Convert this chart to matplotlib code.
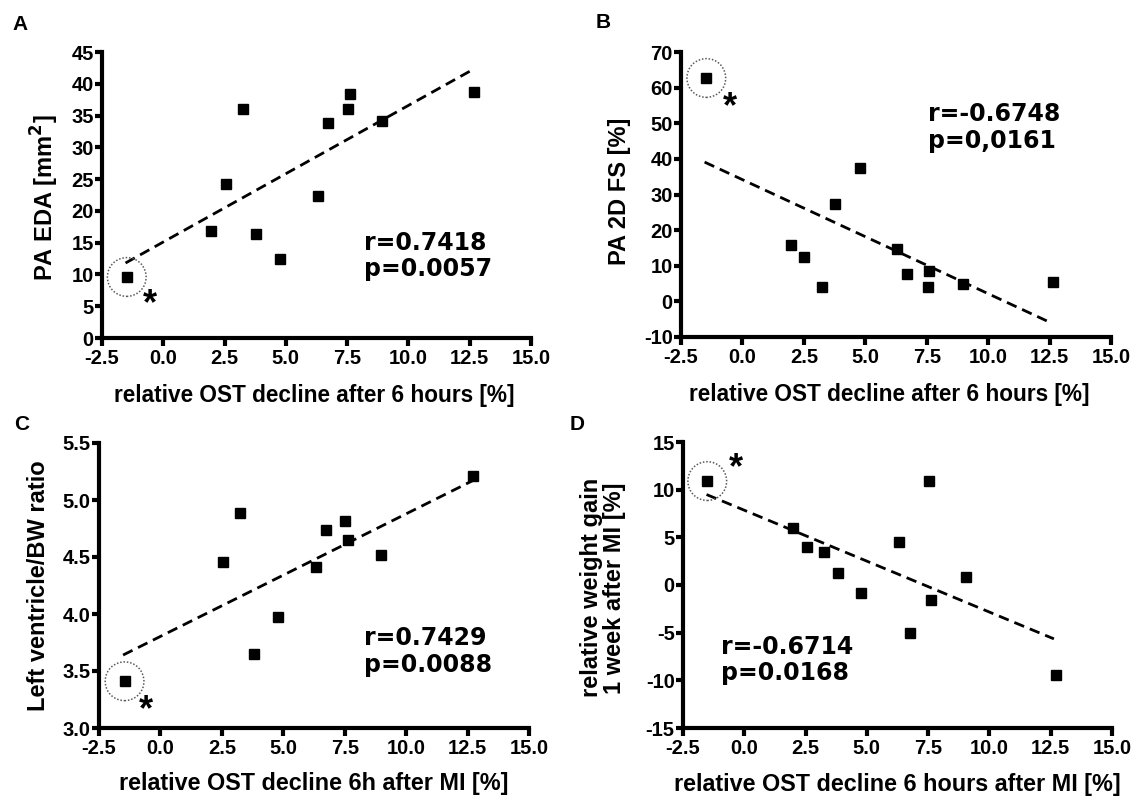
import matplotlib
matplotlib.use('Agg')
import matplotlib.pyplot as plt
import numpy as np

# --- data ---
xticks = [-2.5, 0.0, 2.5, 5.0, 7.5, 10.0, 12.5, 15.0]

a_x = [-1.49, 1.94, 2.54, 3.25, 3.80, 4.76, 6.33, 6.71, 7.54, 7.62, 8.93, 12.69]
a_y = [9.6, 16.8, 24.3, 36.1, 16.3, 12.4, 22.3, 33.9, 36.0, 38.4, 34.1, 38.7]
a_fit_x = [-1.54, 12.61]
a_fit_y = [11.8, 42.2]

b_x = [-1.47, 1.96, 2.52, 3.23, 3.78, 4.77, 6.29, 6.71, 7.59, 7.55, 8.99, 12.64]
b_y = [62.7, 15.7, 12.5, 3.9, 27.2, 37.3, 14.8, 7.8, 8.5, 3.9, 4.8, 5.5]
b_fit_x = [-1.54, 12.55]
b_fit_y = [39.1, -6.0]

c_x = [-1.46, 2.56, 3.24, 3.80, 4.79, 6.32, 6.75, 7.53, 7.63, 8.98, 12.71]
c_y = [3.41, 4.46, 4.89, 3.65, 3.97, 4.41, 4.74, 4.82, 4.65, 4.52, 5.21]
c_fit_x = [-1.52, 12.71]
c_fit_y = [3.64, 5.17]

d_x = [-1.51, 1.98, 2.54, 3.26, 3.81, 4.77, 6.33, 6.76, 7.54, 7.63, 9.04, 12.71]
d_y = [10.9, 5.93, 3.94, 3.42, 1.22, -0.80, 4.54, -4.99, 10.9, -1.57, 0.87, -9.45]
d_fit_x = [-1.54, 12.63]
d_fit_y = [9.49, -5.65]

plt.rcParams['font.family'] = ['Liberation Sans', 'DejaVu Sans']
plt.rcParams['font.weight'] = 'bold'
plt.rcParams['axes.labelweight'] = 'bold'
plt.rcParams['mathtext.default'] = 'bf'

W, H = 1141, 796
fig = plt.figure(figsize=(W / 100, H / 100), dpi=100)


def px_axes(left, right, top, bottom):
    return fig.add_axes([left / W, 1 - bottom / H, (right - left) / W, (bottom - top) / H])


def panel(ax, x, y, fx, fy, ylim, yticks, yfmt, ylabel, xlabel, stats, stats_pos,
          star_pos, ylab_pos, xlab_pos, xlab_size=16.8):
    ax.set_xlim(-2.5, 15)
    ax.set_ylim(*ylim)
    for s in ['top', 'right']:
        ax.spines[s].set_visible(False)
    for s in ['left', 'bottom']:
        ax.spines[s].set_linewidth(3)
        ax.spines[s].set_capstyle('projecting')
    ax.set_xticks(xticks)
    ax.set_xticklabels(['%.1f' % v for v in xticks])
    ax.set_yticks(yticks)
    ax.set_yticklabels([yfmt % v for v in yticks])
    ax.tick_params(axis='x', length=6, width=3, pad=2, labelsize=14.5)
    ax.tick_params(axis='y', length=5, width=3, pad=1, labelsize=14.5)

    ax.plot(x, y, ls='none', marker='s', ms=7.5, color='black', zorder=3)
    ax.plot(fx, fy, color='black', lw=2, ls=(0, (3.8, 2.2)), zorder=2)
    # dotted ring round the outlier
    ax.scatter([x[0]], [y[0]], s=780, facecolors='none', edgecolors='0.35',
               linewidths=1.1, linestyles=(0, (1, 1.2)), zorder=2)
    ax.text(star_pos[0], star_pos[1], '*', fontsize=26, ha='center', va='center')
    ax.text(stats_pos[0], stats_pos[1], stats, fontsize=17, ha='left', va='center',
            family='DejaVu Sans', fontweight='bold', linespacing=1.15)

    ax.set_ylabel(ylabel, fontsize=17, linespacing=1.0)
    ax.set_xlabel(xlabel, fontsize=xlab_size)
    ax.yaxis.set_label_coords(*ylab_pos)
    ax.xaxis.set_label_coords(*xlab_pos)
    ax.xaxis.label.set_va('center')
    ax.yaxis.label.set_va('center')


axA = px_axes(102, 531, 52, 338)
panel(axA, a_x, a_y, a_fit_x, a_fit_y, (0, 45), np.arange(0, 46, 5), '%d',
      'PA EDA [mm$^2$]', 'relative OST decline after 6 hours [%]',
      'r=0.7418\np=0.0057', (8.2, 12.9), (-0.55, 5.3), (-0.133, 0.49), (0.495, -0.2),
      xlab_size=16.3)

axB = px_axes(681, 1111, 52, 337)
panel(axB, b_x, b_y, b_fit_x, b_fit_y, (-10, 70), np.arange(-10, 71, 10), '%d',
      'PA 2D FS [%]', 'relative OST decline after 6 hours [%]',
      'r=-0.6748\np=0,0161', (7.54, 48.7), (-0.52, 54.5), (-0.144, 0.51), (0.485, -0.2),
      xlab_size=16.3)

axC = px_axes(99, 529, 443, 728)
panel(axC, c_x, c_y, c_fit_x, c_fit_y, (3.0, 5.5), np.arange(3.0, 5.51, 0.5), '%.1f',
      'Left ventricle/BW ratio', 'relative OST decline 6h after MI [%]',
      'r=0.7429\np=0.0088', (8.29, 3.67), (-0.6, 3.15), (-0.14, 0.5), (0.5, -0.196))

axD = px_axes(683, 1112, 442, 728)
panel(axD, d_x, d_y, d_fit_x, d_fit_y, (-15, 15), np.arange(-15, 16, 5), '%d',
      'relative weight gain\n1 week after MI [%]', 'relative OST decline 6 hours after MI [%]',
      'r=-0.6714\np=0.0168', (-0.95, -7.87), (-0.36, 12.2), (-0.186, 0.49), (0.5, -0.196))

for letter, (lx, ly) in zip('ABCD', [(20, 25), (603, 22), (22, 425), (577, 425)]):
    fig.text(lx / W, 1 - ly / H, letter, fontsize=15, ha='center', va='center')

fig.savefig('out.png', dpi=100)
